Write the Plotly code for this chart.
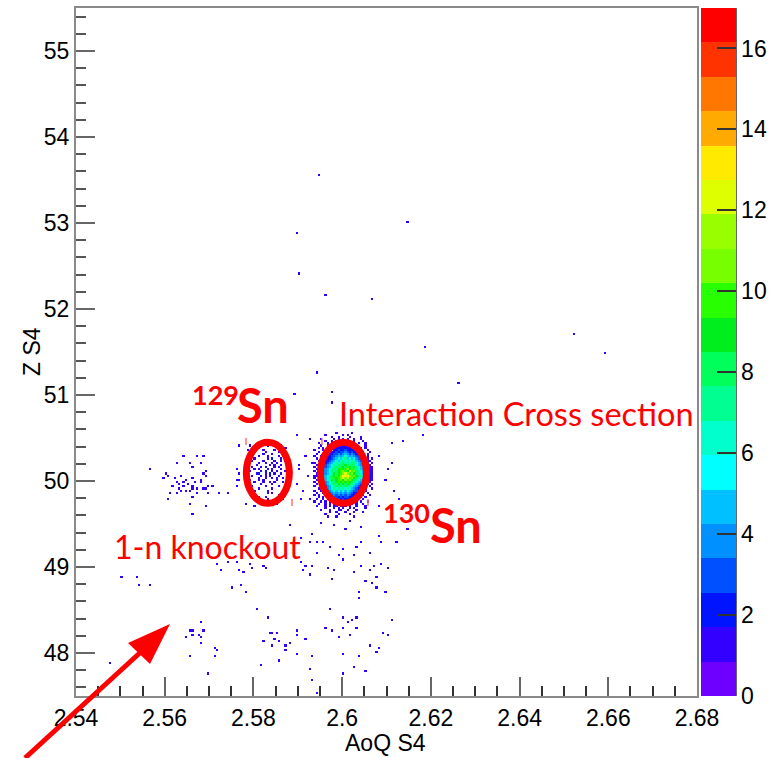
import plotly.graph_objects as go

# ---------------- data ----------------
AOQ_MIN, AOQ_MAX, AOQ_BIN = 2.54, 2.68, 0.0005
Z_MIN, Z_MAX, Z_BIN = 47.5, 55.5, 0.025
Z_COLOR_MAX = 17

# counts code: '.'=0, '1'..'9', 'a'=10 ... 'h'=17
# 130Sn cluster, rows from top (Z=50.575) downward, columns from AoQ=2.593
SN130_AOQ0 = 2.593
SN130_ZTOP = 50.575
SN130_ROWS = [
    "...........1......1.........",
    "......1.......1.1...........",
    ".........1..1....1....1.....",
    "....1.....1.1.1.1..1..1.....",
    "......1..1.11.1.11.1...1....",
    "...1...1.1.1211.1.11.1..1...",
    "....1..1.11211211.1.1...1...",
    "...1.1.1.1121212121.1.1.1...",
    ".1...1.11.12322322211.1..1..",
    "...1..1.1123233432322111..1.",
    "..1..1.11233434543432211.1..",
    ".1..1.112334545654543321.1..",
    "..1.1.122345656756564332.1.1",
    "...11.123456567676765432211.",
    ".1..1123456767877687654321.1",
    "..1.12345676878987876543211.",
    ".1.1123456787898a98976543211",
    "..11234567879a9ab9a876543211",
    ".1.1234568789aba9cab87654321",
    "..12234567989abcbab987654321",
    ".1123456789a9bcdcbab98765421",
    ".1.2345678a9abcbcab987654321",
    "..1234567989ab9bab9876543211",
    ".1.123456879a9a9a98765432.1.",
    "..1.2345678798989876543211.1",
    ".1..123456787878776543221.1.",
    "...11234567676766654322.1..1",
    ".1..1123456565656543321.1...",
    "..1..112345454545432211..1..",
    ".1.1..1223434343432211.1..1.",
    "...1.1.11233232332211.1.1...",
    "..1..1.1.122323221211..1....",
    ".1..1.1.11212221211.1.1..1..",
    "...1..1.1.1121211.1.1..1....",
    "..1...1.1.11.111.1..1...1...",
    "......1...1.1.1..1.1....1...",
    "....1...1...11..1...1.......",
    "........1..1...1...1...1....",
    "......1.....1....1..........",
    "...........1.......1........",
]

# 129Sn cluster, rows from top (Z=50.45) downward, columns from AoQ=2.578
SN129_AOQ0 = 2.578
SN129_ZTOP = 50.45
SN129_ROWS = [
    "......................",
    "..1.......1.....1.....",
    "......1...........1...",
    ".1......1....1........",
    "....1....1.....1......",
    "..1.....1...1.....1...",
    "......1...1....1......",
    ".1..1.....1.2...1.....",
    "...1....1....1..1.1...",
    "......1..1..1.1....1..",
    ".1...1.....1.1..1.....",
    "...1...1.2...1.1...1..",
    "....1.1...1.1...1.....",
    "..1....1.2..1.1...1...",
    ".1...12..1.2.1..1...1.",
    "...1...1.1.1...1......",
    "......1..1..1.1..1....",
    "..1...1.1.....1.......",
    "....1...1..1.1...1....",
    ".1.....1....1.........",
    "...1.....1.....1......",
    "......1.....1.....1...",
    "....1.....1...........",
    "..........1.1....1....",
    "...1...........1......",
    "......1..1............",
    "..........1......1....",
    ".....1................",
    "..............1.......",
    "....1.................",
]

# isolated entries (one count each)
SCATTER_AOQ = [
    # upper region
    2.5946, 2.6146, 2.5898, 2.5905, 2.5964, 2.6065, 2.6525, 2.6592, 2.6189,
    2.5945, 2.6263, 2.5975, 2.5891, 2.5977, 2.6184, 2.5896, 2.6139, 2.6110,
    # around the 130Sn cluster
    2.6085, 2.6103, 2.6119, 2.6097, 2.6112, 2.6130, 2.6081,
    2.5916, 2.5923, 2.5912, 2.5927, 2.5905, 2.5905, 2.5896, 2.5927, 2.5909, 2.5932,
    2.5950, 2.5984, 2.6018, 2.6045, 2.6006, 2.5968,
    # tail below 130Sn
    2.5882, 2.5932, 2.5907, 2.5927, 2.5945, 2.5957, 2.5943, 2.5973, 2.6000,
    2.6031, 2.6045, 2.6063, 2.6081, 2.6090, 2.6124, 2.6146, 2.5909, 2.5916,
    2.5934, 2.5912, 2.5927, 2.5968, 2.5984, 2.5995, 2.6002, 2.6029, 2.6040,
    2.6029, 2.6063, 2.6074, 2.6090, 2.6103, 2.6078, 2.6067, 2.5979, 2.6051,
    2.6036, 2.6078, 2.6097, 2.6036, 2.5973, 2.6002, 2.6011, 2.6024, 2.6033,
    2.6115, 2.5961, 2.5979, 2.6002, 2.6018, 2.6033, 2.5991, 2.6063, 2.6081,
    2.6101, 2.6092, 2.6078, 2.6000, 2.6036, 2.5934, 2.5927, 2.5932, 2.6002,
    2.6029, 2.6051, 2.5943,
    2.5837, 2.5853, 2.5855, 2.5844, 2.5871, 2.5882, 2.5896, 2.5898, 2.5918,
    2.5896, 2.5858, 2.5808, 2.5835, 2.5840, 2.5822, 2.5846, 2.5873, 2.5819,
    # lower left
    2.5501, 2.5535, 2.5544, 2.5569, 2.5680, 2.5655, 2.5664, 2.5689, 2.5650,
    2.5661, 2.5677, 2.5680, 2.5682, 2.5711, 2.5716, 2.5713, 2.5655, 2.5695,
    2.5477,
    2.5718, 2.5729, 2.5743, 2.5765, 2.5767, 2.5776, 2.5790, 2.5799, 2.5822,
    2.5829, 2.5754, 2.5774, 2.5785,
    # left group near Z=50
    2.5565, 2.5603, 2.5607, 2.5598, 2.5628, 2.5641, 2.5657, 2.5661, 2.5673,
    2.5686, 2.5680, 2.5625, 2.5639, 2.5646, 2.5664, 2.5686, 2.5693, 2.5628,
    2.5643, 2.5668, 2.5680, 2.5691, 2.5616, 2.5630, 2.5641, 2.5652, 2.5664,
    2.5680, 2.5695, 2.5709, 2.5630, 2.5639, 2.5646, 2.5655, 2.5661, 2.5673,
    2.5686, 2.5612, 2.5628, 2.5661, 2.5675, 2.5693, 2.5698, 2.5720, 2.5745,
    2.5610, 2.5655, 2.5691, 2.5664, 2.5765, 2.5767, 2.5770, 2.5763, 2.5761,
    2.5785, 2.5767,
]
SCATTER_Z = [
    53.56, 53.01, 52.90, 52.42, 52.17, 52.10, 51.72, 51.49, 51.56,
    51.27, 51.14, 51.05, 51.02, 50.91, 50.53, 50.53, 50.47, 50.44,
    50.30, 50.13, 49.90, 50.01, 50.22, 49.78, 49.72,
    50.30, 50.07, 49.90, 49.78, 50.19, 50.13, 49.95, 50.48, 49.78, 50.22,
    49.52, 49.49, 49.55, 49.45, 49.43, 49.58,
    49.48, 49.40, 49.33, 49.28, 49.29, 49.28, 49.17, 49.24, 49.21,
    49.23, 49.28, 49.17, 49.35, 49.29, 49.30, 49.43, 49.07, 49.01,
    49.00, 48.95, 48.92, 48.99, 48.97, 49.15, 49.09, 49.15, 49.02,
    48.94, 48.97, 49.02, 49.05, 48.99, 48.90, 48.81, 48.85, 48.84,
    48.71, 48.77, 48.70, 48.63, 48.52, 48.42, 48.35, 48.40, 48.41,
    48.38, 48.28, 48.26, 48.28, 48.21, 48.28, 48.19, 48.08, 48.07,
    48.20, 48.24, 48.01, 47.99, 47.97, 47.95, 47.81, 47.69, 47.77,
    47.83, 47.79, 47.55,
    48.24, 48.23, 48.15, 48.09, 48.09, 48.10, 48.27, 48.21, 48.16,
    47.98, 47.92, 48.52, 48.42, 48.23, 48.14, 48.16, 48.05, 47.87,
    48.88, 48.88, 48.79, 48.80, 48.37, 48.26, 48.27, 48.26, 48.19,
    48.20, 48.22, 48.18, 48.12, 48.06, 48.05, 47.95, 47.95, 47.77,
    47.90,
    49.05, 48.97, 49.06, 49.06, 48.97, 48.93, 49.05, 48.98, 49.00,
    48.99, 48.77, 48.79, 48.70,
    50.14, 50.09, 50.06, 50.05, 50.21, 50.30, 50.21, 50.16, 50.30,
    50.28, 50.21, 50.03, 50.07, 50.02, 50.05, 50.08, 50.10, 49.99,
    49.99, 49.99, 50.00, 50.06, 49.94, 49.95, 49.94, 49.97, 49.94,
    49.98, 49.93, 49.93, 49.91, 49.88, 49.88, 49.90, 49.91, 49.92,
    49.92, 49.86, 49.86, 49.81, 49.87, 49.91, 49.87, 49.87, 49.86,
    49.78, 49.74, 49.71, 49.60, 50.13, 50.09, 50.02, 50.01, 49.94,
    49.74, 50.42,
]

PALETTE = [
    "#6e00ff", "#3300ff", "#0014ff", "#0050ff", "#0090ff", "#00c0ff", "#00ffff",
    "#00ffcc", "#00ff90", "#00ff5a", "#00ee1e", "#28ff00", "#77ff00", "#99ff00",
    "#ddff00", "#ffea00", "#ffaa00", "#ff7700", "#ff3300", "#ff0000",
]
X_TICKS = [2.54, 2.56, 2.58, 2.60, 2.62, 2.64, 2.66, 2.68]
X_TICKTEXT = ["2.54", "2.56", "2.58", "2.6", "2.62", "2.64", "2.66", "2.68"]
Y_TICKS = [48, 49, 50, 51, 52, 53, 54, 55]
Z_TICKS = [0, 2, 4, 6, 8, 10, 12, 14, 16]

# ---------------- build the histogram ----------------
NX = int(round((AOQ_MAX - AOQ_MIN) / AOQ_BIN))
NY = int(round((Z_MAX - Z_MIN) / Z_BIN))
counts = [[0] * NX for _ in range(NY)]


def add(aoq, z, n=1):
    ix = int((aoq - AOQ_MIN) / AOQ_BIN)
    iy = int((z - Z_MIN) / Z_BIN)
    if 0 <= ix < NX and 0 <= iy < NY:
        counts[iy][ix] += n


def decode(ch):
    if ch == ".":
        return 0
    if ch.isdigit():
        return int(ch)
    return 10 + ord(ch) - ord("a")


for rows, x0, ytop in ((SN130_ROWS, SN130_AOQ0, SN130_ZTOP),
                       (SN129_ROWS, SN129_AOQ0, SN129_ZTOP)):
    for r, row in enumerate(rows):
        for c, ch in enumerate(row):
            v = decode(ch)
            if v:
                add(x0 + (c + 0.5) * AOQ_BIN, ytop - (r + 0.5) * Z_BIN, v)

for a, z in zip(SCATTER_AOQ, SCATTER_Z):
    add(a, z)

zmat = [[(v if v > 0 else None) for v in row] for row in counts]
xc = [AOQ_MIN + (i + 0.5) * AOQ_BIN for i in range(NX)]
yc = [Z_MIN + (j + 0.5) * Z_BIN for j in range(NY)]

n = len(PALETTE)
cscale = []
for k, col in enumerate(PALETTE):
    cscale.append([k / n, col])
    cscale.append([(k + 1) / n, col])

# ---------------- layout helpers ----------------
W, H = 779, 758
L, R, T, B = 76, 82, 8, 62
PW, PH = W - L - R, H - T - B


def px(p):
    return (p - L) / PW


def py(p):
    return (H - B - p) / PH


AX_FONT = dict(family="Liberation Sans, Arial, sans-serif", size=23, color="black")
TXT_FONT = "Lato, sans-serif"
RED = "#ff0000"

fig = go.Figure()
fig.add_trace(go.Heatmap(
    x=xc, y=yc, z=zmat, zmin=0, zmax=Z_COLOR_MAX, colorscale=cscale,
    hoverinfo="skip", zsmooth=False,
    colorbar=dict(
        thickness=35, thicknessmode="pixels", len=1, lenmode="fraction",
        x=1 + (701 - 697) / PW, xanchor="left", y=0.5, yanchor="middle",
        xpad=0, ypad=0, outlinewidth=0,
        tickvals=Z_TICKS, ticks="inside", ticklen=19, tickwidth=1.5, tickcolor="#333",
        tickfont=AX_FONT,
    ),
))

axis_common = dict(
    showgrid=False, zeroline=False, showline=True, mirror=True,
    linecolor="#8a8a8a", linewidth=2, ticks="inside", ticklen=19, tickwidth=1.5,
    tickcolor="#666", tickfont=AX_FONT,
)
fig.update_xaxes(range=[AOQ_MIN, AOQ_MAX], tickvals=X_TICKS, ticktext=X_TICKTEXT,
                 minor=dict(dtick=0.005, tick0=2.54, ticks="inside", ticklen=10,
                            tickwidth=1.5, tickcolor="#333"),
                 **axis_common)
fig.update_yaxes(range=[Z_MIN, Z_MAX], tickvals=Y_TICKS,
                 minor=dict(dtick=0.2, tick0=48, ticks="inside", ticklen=10,
                            tickwidth=1.5, tickcolor="#555"),
                 **axis_common)

shapes = []
# ellipses
for x0, x1 in ((2.5784, 2.5881), (2.5951, 2.6055)):
    shapes.append(dict(type="circle", xref="x", yref="y", x0=x0, x1=x1,
                       y0=49.74, y1=50.45, line=dict(color=RED, width=7)))
# small marks near ellipses
for (a, b0, b1) in ((246, 438, 445), (292, 499, 506), (322, 438, 445), (368, 499, 506)):
    shapes.append(dict(type="line", xref="paper", yref="paper",
                       x0=px(a), x1=px(a), y0=py(b0), y1=py(b1),
                       line=dict(color="#ff7070", width=1.5)))
# arrow
shapes.append(dict(type="line", xref="paper", yref="paper",
                   x0=px(25), y0=py(758), x1=px(143), y1=py(650),
                   line=dict(color=RED, width=5)))
shapes.append(dict(type="path", xref="paper", yref="paper",
                   path=f"M {px(170)} {py(624)} L {px(128)} {py(643)} L {px(150)} {py(664)} Z",
                   fillcolor=RED, line=dict(color=RED, width=0)))
# colorbar right edge
shapes.append(dict(type="line", xref="paper", yref="paper",
                   x0=px(736), x1=px(736), y0=0, y1=1,
                   line=dict(color="#333", width=1.5)))
fig.update_layout(shapes=shapes)

ann = []


def txt(text, x, y, size, bold=False, xanchor="left", family=TXT_FONT, color=RED, angle=0):
    ann.append(dict(text=(f"<b>{text}</b>" if bold else text), xref="paper", yref="paper",
                    x=px(x), y=py(y), xanchor=xanchor, yanchor="middle",
                    showarrow=False, textangle=angle,
                    font=dict(family=family, size=size, color=color)))


txt("129", 190, 394, 27, bold=True)
txt("Sn", 235, 405, 47, bold=True)
txt("Interaction Cross section", 337, 414, 32.5)
txt("130", 381, 512, 27, bold=True)
txt("Sn", 428, 525, 47, bold=True)
txt("1-n knockout", 112, 546, 32)
txt("AoQ S4", 385, 743, 23, xanchor="center", family=AX_FONT["family"], color="black")
txt("Z S4", 32, 352, 23, xanchor="center", family=AX_FONT["family"], color="black", angle=-90)
fig.update_layout(annotations=ann)

fig.update_layout(
    width=W, height=H, margin=dict(l=L, r=R, t=T, b=B, autoexpand=False),
    paper_bgcolor="white", plot_bgcolor="white", showlegend=False,
)
fig.write_html("out.html")
